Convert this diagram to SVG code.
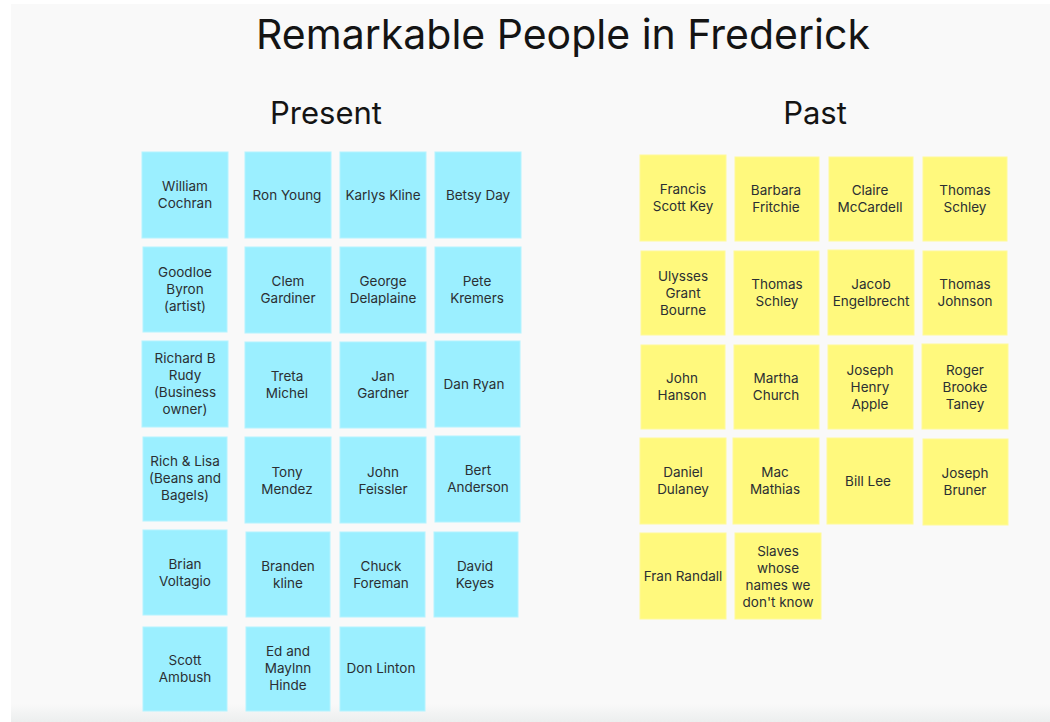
<svg xmlns="http://www.w3.org/2000/svg" width="1050" height="722" viewBox="0 0 1050 722">
  <defs>
    <linearGradient id="floor" x1="0" y1="0" x2="0" y2="1">
      <stop offset="0" stop-color="#f9f9f9"/>
      <stop offset="1" stop-color="#eceeee"/>
    </linearGradient>
    <style>
      .board { fill: #f9f9f9; }
      .title { font-family: Inter, Lato, sans-serif; font-size: 41px; fill: #141414; text-anchor: middle; }
      .head { font-family: Inter, Lato, sans-serif; font-size: 31px; fill: #141414; text-anchor: middle; }
      .present rect { fill: #9befff; stroke: #b4f3ff; stroke-width: 1; }
      .past rect { fill: #fff97d; stroke: #fffa9a; stroke-width: 1; }
      .note text { font-family: Inter, Lato, sans-serif; font-size: 13.5px; fill: #2b2f33; text-anchor: middle; }
    </style>
  </defs>

  <!-- board background -->
  <rect width="1050" height="722" fill="#ffffff"/>
  <rect class="board" x="11" y="4" width="1039" height="718"/>
  <rect x="11" y="704" width="1039" height="18" fill="url(#floor)"/>

  <text class="title" x="563" y="49">Remarkable People in Frederick</text>
  <text class="head" x="326" y="124">Present</text>
  <text class="head" x="815" y="124">Past</text>

  <!-- present-day notes -->
  <g class="present">
    <g class="note" id="n-william-cochran"><rect x="142" y="152" width="86" height="86"/><text x="185"><tspan x="185" y="191">William</tspan><tspan x="185" y="208">Cochran</tspan></text></g>
    <g class="note" id="n-ron-young"><rect x="245" y="152" width="86" height="86"/><text x="287" y="200">Ron Young</text></g>
    <g class="note" id="n-karlys-kline"><rect x="340" y="152" width="86" height="86"/><text x="383" y="200">Karlys Kline</text></g>
    <g class="note" id="n-betsy-day"><rect x="435" y="152" width="86" height="86"/><text x="478" y="200">Betsy Day</text></g>

    <g class="note" id="n-goodloe-byron"><rect x="143" y="247" width="84" height="85"/><text><tspan x="185" y="277">Goodloe</tspan><tspan x="185" y="294">Byron</tspan><tspan x="185" y="311">(artist)</tspan></text></g>
    <g class="note" id="n-clem-gardiner"><rect x="245" y="247" width="86" height="86"/><text><tspan x="288" y="286">Clem</tspan><tspan x="288" y="303">Gardiner</tspan></text></g>
    <g class="note" id="n-george-delaplaine"><rect x="340" y="247" width="86" height="86"/><text><tspan x="383" y="286">George</tspan><tspan x="383" y="303">Delaplaine</tspan></text></g>
    <g class="note" id="n-pete-kremers"><rect x="435" y="247" width="86" height="86"/><text><tspan x="477" y="286">Pete</tspan><tspan x="477" y="303">Kremers</tspan></text></g>

    <g class="note" id="n-richard-rudy"><rect x="142" y="341" width="86" height="86"/><text><tspan x="185" y="363">Richard B</tspan><tspan x="185" y="380">Rudy</tspan><tspan x="185" y="397">(Business</tspan><tspan x="185" y="414">owner)</tspan></text></g>
    <g class="note" id="n-treta-michel"><rect x="245" y="342" width="86" height="86"/><text><tspan x="287" y="381">Treta</tspan><tspan x="287" y="398">Michel</tspan></text></g>
    <g class="note" id="n-jan-gardner"><rect x="340" y="342" width="86" height="86"/><text><tspan x="383" y="381">Jan</tspan><tspan x="383" y="398">Gardner</tspan></text></g>
    <g class="note" id="n-dan-ryan"><rect x="435" y="341" width="85" height="86"/><text x="474" y="389">Dan Ryan</text></g>

    <g class="note" id="n-rich-lisa"><rect x="143" y="437" width="84" height="84"/><text><tspan x="185" y="466">Rich &amp; Lisa</tspan><tspan x="185" y="483">(Beans and</tspan><tspan x="185" y="500">Bagels)</tspan></text></g>
    <g class="note" id="n-tony-mendez"><rect x="245" y="437" width="86" height="86"/><text><tspan x="287" y="477">Tony</tspan><tspan x="287" y="494">Mendez</tspan></text></g>
    <g class="note" id="n-john-feissler"><rect x="340" y="437" width="86" height="86"/><text><tspan x="383" y="477">John</tspan><tspan x="383" y="494">Feissler</tspan></text></g>
    <g class="note" id="n-bert-anderson"><rect x="435" y="436" width="85" height="86"/><text><tspan x="478" y="475">Bert</tspan><tspan x="478" y="492">Anderson</tspan></text></g>

    <g class="note" id="n-brian-voltagio"><rect x="143" y="530" width="84" height="85"/><text><tspan x="185" y="569">Brian</tspan><tspan x="185" y="586">Voltagio</tspan></text></g>
    <g class="note" id="n-branden-kline"><rect x="246" y="532" width="84" height="85"/><text><tspan x="288" y="571">Branden</tspan><tspan x="288" y="588">kline</tspan></text></g>
    <g class="note" id="n-chuck-foreman"><rect x="340" y="532" width="85" height="85"/><text><tspan x="381" y="571">Chuck</tspan><tspan x="381" y="588">Foreman</tspan></text></g>
    <g class="note" id="n-david-keyes"><rect x="434" y="532" width="84" height="85"/><text><tspan x="475" y="571">David</tspan><tspan x="475" y="588">Keyes</tspan></text></g>

    <g class="note" id="n-scott-ambush"><rect x="143" y="627" width="84" height="84"/><text><tspan x="185" y="665">Scott</tspan><tspan x="185" y="682">Ambush</tspan></text></g>
    <g class="note" id="n-ed-maylnn-hinde"><rect x="246" y="627" width="84" height="84"/><text><tspan x="288" y="656">Ed and</tspan><tspan x="288" y="673">Maylnn</tspan><tspan x="288" y="690">Hinde</tspan></text></g>
    <g class="note" id="n-don-linton"><rect x="340" y="627" width="85" height="84"/><text x="381" y="673">Don Linton</text></g>
  </g>

  <!-- historical notes -->
  <g class="past">
    <g class="note" id="p-francis-scott-key"><rect x="640" y="155" width="86" height="86"/><text><tspan x="683" y="194">Francis</tspan><tspan x="683" y="211">Scott Key</tspan></text></g>
    <g class="note" id="p-barbara-fritchie"><rect x="735" y="157" width="84" height="84"/><text><tspan x="776" y="195">Barbara</tspan><tspan x="776" y="212">Fritchie</tspan></text></g>
    <g class="note" id="p-claire-mccardell"><rect x="829" y="157" width="84" height="84"/><text><tspan x="870" y="195">Claire</tspan><tspan x="870" y="212">McCardell</tspan></text></g>
    <g class="note" id="p-thomas-schley-1"><rect x="923" y="157" width="84" height="84"/><text><tspan x="965" y="195">Thomas</tspan><tspan x="965" y="212">Schley</tspan></text></g>

    <g class="note" id="p-ulysses-grant-bourne"><rect x="641" y="251" width="84" height="84"/><text><tspan x="683" y="281">Ulysses</tspan><tspan x="683" y="298">Grant</tspan><tspan x="683" y="315">Bourne</tspan></text></g>
    <g class="note" id="p-thomas-schley-2"><rect x="734" y="251" width="85" height="84"/><text><tspan x="777" y="289">Thomas</tspan><tspan x="777" y="306">Schley</tspan></text></g>
    <g class="note" id="p-jacob-engelbrecht"><rect x="828" y="250" width="86" height="85"/><text><tspan x="871" y="289">Jacob</tspan><tspan x="871" y="306">Engelbrecht</tspan></text></g>
    <g class="note" id="p-thomas-johnson"><rect x="923" y="251" width="84" height="84"/><text><tspan x="965" y="289">Thomas</tspan><tspan x="965" y="306">Johnson</tspan></text></g>

    <g class="note" id="p-john-hanson"><rect x="641" y="345" width="84" height="84"/><text><tspan x="682" y="383">John</tspan><tspan x="682" y="400">Hanson</tspan></text></g>
    <g class="note" id="p-martha-church"><rect x="734" y="345" width="85" height="84"/><text><tspan x="776" y="383">Martha</tspan><tspan x="776" y="400">Church</tspan></text></g>
    <g class="note" id="p-joseph-henry-apple"><rect x="828" y="345" width="85" height="84"/><text><tspan x="870" y="375">Joseph</tspan><tspan x="870" y="392">Henry</tspan><tspan x="870" y="409">Apple</tspan></text></g>
    <g class="note" id="p-roger-brooke-taney"><rect x="922" y="344" width="86" height="85"/><text><tspan x="965" y="375">Roger</tspan><tspan x="965" y="392">Brooke</tspan><tspan x="965" y="409">Taney</tspan></text></g>

    <g class="note" id="p-daniel-dulaney"><rect x="640" y="438" width="86" height="86"/><text><tspan x="683" y="477">Daniel</tspan><tspan x="683" y="494">Dulaney</tspan></text></g>
    <g class="note" id="p-mac-mathias"><rect x="733" y="438" width="86" height="86"/><text><tspan x="775" y="477">Mac</tspan><tspan x="775" y="494">Mathias</tspan></text></g>
    <g class="note" id="p-bill-lee"><rect x="827" y="438" width="86" height="86"/><text x="868" y="486">Bill Lee</text></g>
    <g class="note" id="p-joseph-bruner"><rect x="923" y="439" width="85" height="86"/><text><tspan x="965" y="478">Joseph</tspan><tspan x="965" y="495">Bruner</tspan></text></g>

    <g class="note" id="p-fran-randall"><rect x="640" y="533" width="86" height="86"/><text x="683" y="581">Fran Randall</text></g>
    <g class="note" id="p-unnamed-slaves"><rect x="735" y="533" width="86" height="86"/><text><tspan x="778" y="556">Slaves</tspan><tspan x="778" y="573">whose</tspan><tspan x="778" y="590">names we</tspan><tspan x="778" y="607">don't know</tspan></text></g>
  </g>
</svg>
